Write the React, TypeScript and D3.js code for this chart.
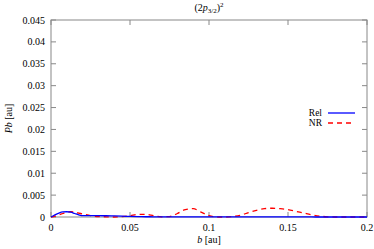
import React from "react";
import * as d3 from "d3";

const bValues = [0,0.0025,0.005,0.0075,0.01,0.0125,0.015,0.0175,0.02,0.025,0.03,0.035,0.04,0.045,0.05,0.055,0.06,0.065,0.07,0.075,0.08,0.085,0.09,0.095,0.1,0.105,0.11,0.115,0.12,0.125,0.13,0.135,0.14,0.145,0.15,0.155,0.16,0.165,0.17,0.175,0.18,0.185,0.19,0.195,0.2];
const relValues = [0,0.0005,0.0009,0.00115,0.0012,0.0011,0.0008,0.0005,0.0003,0.0003,0.0003,0.00028,0.00025,0.0002,0.00012,0.00008,0.00006,0.00005,0.00004,0.00003,0.00003,0.00003,0.00002,0.00002,0.00002,0.00001,0.00001,0.00001,0.00001,0.00001,0.00001,0.00001,0.00001,0.00001,0.00001,0.00001,0.00001,0.00001,0,0,0,0,0,0,0];
const nrValues = [0,0.0002,0.0005,0.0008,0.0011,0.0012,0.0011,0.0009,0.0007,0.0003,0.0001,0.00005,0,0.0001,0.0003,0.0006,0.0006,0.0003,0.00005,0.0001,0.0008,0.0017,0.0019,0.0011,0.0003,0,0,0.0001,0.0004,0.001,0.0015,0.0019,0.002,0.0019,0.0017,0.0013,0.0009,0.0005,0.0002,0.00005,0,0,0,0,0];
const xTicks = [0, 0.05, 0.1, 0.15, 0.2];
const yTicks = [0,0.005,0.01,0.015,0.02,0.025,0.03,0.035,0.04,0.045];
const seriesNames = ["Rel", "NR"];

const W = 374, H = 249;
const L = 51, R = 367, T = 20, B = 217;
const font = "Liberation Serif, DejaVu Serif, serif";

export default function App() {
  const x = d3.scaleLinear().domain([0, 0.2]).range([L, R]);
  const y = d3.scaleLinear().domain([0, 0.045]).range([B, T]);
  const line = (vals: number[]) =>
    d3.line<number>().x((_, i) => x(bValues[i])).y((d) => y(d)).curve(d3.curveMonotoneX)(vals) || "";
  const tl = 5;
  return (
    <svg width={W} height={H} style={{ position: "absolute", left: 0, top: 0, background: "#fff", fontFamily: font }}>
      <rect x={L} y={T} width={R - L} height={B - T} fill="none" stroke="#888" strokeWidth={1} />
      {xTicks.map((t) => (
        <g key={"x" + t}>
          <line x1={x(t)} x2={x(t)} y1={B} y2={B - tl} stroke="#888" />
          <line x1={x(t)} x2={x(t)} y1={T} y2={T + tl} stroke="#888" />
          <text x={x(t)} y={B + 14} fontSize={10} textAnchor="middle" fill="#000">{String(t)}</text>
        </g>
      ))}
      {yTicks.map((t) => (
        <g key={"y" + t}>
          <line x1={L} x2={L + tl} y1={y(t)} y2={y(t)} stroke="#888" />
          <line x1={R} x2={R - tl} y1={y(t)} y2={y(t)} stroke="#888" />
          <text x={L - 6} y={y(t) + 3.5} fontSize={10} textAnchor="end" fill="#000">{String(t)}</text>
        </g>
      ))}
      <path d={line(nrValues)} fill="none" stroke="#ff0000" strokeWidth={1.3} strokeDasharray="5,4" />
      <path d={line(relValues)} fill="none" stroke="#0000ff" strokeWidth={1.3} />
      <text x={(L + R) / 2} y={11} fontSize={10} textAnchor="middle" fill="#000">
        (2<tspan fontStyle="italic">p</tspan><tspan fontSize={7} dy={2}>3/2</tspan><tspan dy={-2}>)</tspan><tspan fontSize={7} dy={-4}>2</tspan>
      </text>
      <text x={(L + R) / 2} y={243} fontSize={10} textAnchor="middle" fill="#000">
        <tspan fontStyle="italic">b</tspan> [au]
      </text>
      <text transform={`translate(12,${(T + B) / 2}) rotate(-90)`} fontSize={10} textAnchor="middle" fill="#000">
        <tspan fontStyle="italic">Pb</tspan> [au]
      </text>
      {seriesNames.map((n, i) => (
        <g key={n}>
          <text x={322} y={116 + i * 10} fontSize={9.5} textAnchor="end" fill="#000">{n}</text>
          <line x1={328} x2={355} y1={113 + i * 10} y2={113 + i * 10} stroke={i === 0 ? "#0000ff" : "#ff0000"} strokeWidth={1.3} strokeDasharray={i === 0 ? undefined : "5,4"} />
        </g>
      ))}
    </svg>
  );
}
